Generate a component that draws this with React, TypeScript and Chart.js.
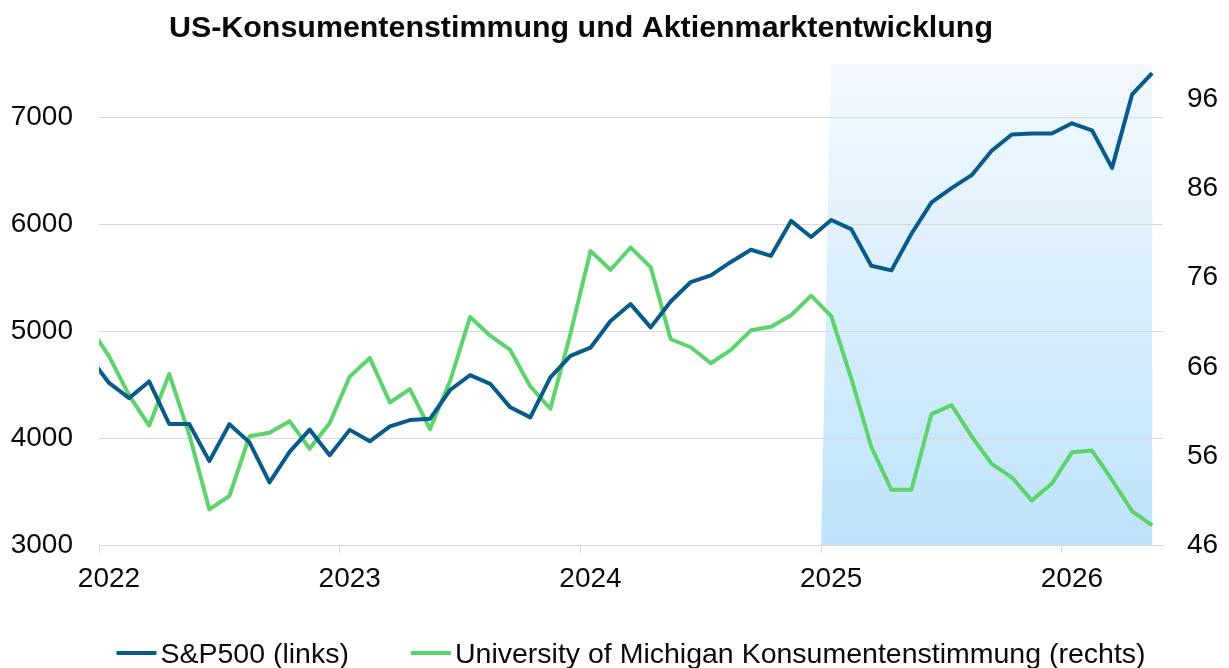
import React, { useEffect, useRef } from 'react';
import { Chart, registerables } from 'chart.js';

Chart.register(...registerables);

const TITLE = 'US-Konsumentenstimmung und Aktienmarktentwicklung';

// Monthly observations (plotted at mid-month); Dec 2021 is clipped at the left edge
const MONTHS = [
  '2021-12',
  '2022-01', '2022-02', '2022-03', '2022-04', '2022-05', '2022-06', '2022-07', '2022-08', '2022-09', '2022-10', '2022-11', '2022-12',
  '2023-01', '2023-02', '2023-03', '2023-04', '2023-05', '2023-06', '2023-07', '2023-08', '2023-09', '2023-10', '2023-11', '2023-12',
  '2024-01', '2024-02', '2024-03', '2024-04', '2024-05', '2024-06', '2024-07', '2024-08', '2024-09', '2024-10', '2024-11', '2024-12',
  '2025-01', '2025-02', '2025-03', '2025-04', '2025-05', '2025-06', '2025-07', '2025-08', '2025-09', '2025-10', '2025-11', '2025-12',
  '2026-01', '2026-02', '2026-03', '2026-04', '2026-05',
];

const SP500 = [
  4766,
  4516, 4374, 4530, 4132, 4132, 3785, 4130, 3960, 3586, 3872, 4080, 3840,
  4077, 3970, 4109, 4169, 4180, 4450, 4589, 4508, 4288, 4194, 4568, 4770,
  4846, 5096, 5254, 5036, 5278, 5460, 5522, 5648, 5762, 5705, 6032, 5882,
  6041, 5955, 5612, 5569, 5912, 6205, 6339, 6460, 6688, 6840, 6849, 6850,
  6945, 6880, 6528, 7215, 7415,
];

const UMICH = [
  70.6,
  67.2, 62.8, 59.4, 65.2, 58.4, 50.0, 51.5, 58.2, 58.6, 59.9, 56.8, 59.7,
  64.9, 67.0, 62.0, 63.5, 59.0, 64.4, 71.6, 69.5, 67.9, 63.8, 61.3, 69.7,
  79.0, 76.9, 79.4, 77.2, 69.1, 68.2, 66.4, 67.9, 70.1, 70.5, 71.8, 74.0,
  71.7, 64.7, 57.0, 52.2, 52.2, 60.7, 61.7, 58.2, 55.1, 53.6, 51.0, 52.9,
  56.4, 56.6, 53.3, 49.8, 48.2,
];

const SERIES_LABELS = ['S&P500 (links)', 'University of Michigan Konsumentenstimmung (rechts)'];
const X_TICKS = [2022, 2023, 2024, 2025, 2026];
const LEFT_TICKS = [3000, 4000, 5000, 6000, 7000];
const RIGHT_TICKS = [46, 56, 66, 76, 86, 96];

const X_MIN = 2022;
const X_MAX = 2026.42;
const LEFT_MIN = 3000;
const LEFT_MAX = 7500;
const RIGHT_MIN = 46;
const RIGHT_MAX = 100;

const SHADE_START = 2025.0;
const SHADE_START_TOP = 2025.04;
const SHADE_END_MONTH = '2026-05';

const BLUE = '#075b8b';
const GREEN = '#5cd46b';
const GRID = '#d9d9d9';
const TEXT = '#0a0a0a';
const FONT = '"Liberation Sans", Arial, sans-serif';

const toYear = (m: string) => {
  const [y, mo] = m.split('-').map(Number);
  return y + (mo - 0.5) / 12;
};

const shadePlugin = {
  id: 'shade',
  beforeDraw(chart: any) {
    const { ctx, chartArea, scales } = chart;
    const xs = scales.x;
    const x0b = xs.getPixelForValue(SHADE_START);
    const x0t = xs.getPixelForValue(SHADE_START_TOP);
    const x1 = xs.getPixelForValue(toYear(SHADE_END_MONTH));
    const g = ctx.createLinearGradient(0, chartArea.top, 0, chartArea.bottom);
    g.addColorStop(0, '#f3f9fe');
    g.addColorStop(1, '#bde3fa');
    ctx.save();
    ctx.fillStyle = g;
    ctx.beginPath();
    ctx.moveTo(x0t, chartArea.top);
    ctx.lineTo(x1, chartArea.top);
    ctx.lineTo(x1, chartArea.bottom);
    ctx.lineTo(x0b, chartArea.bottom);
    ctx.closePath();
    ctx.fill();
    ctx.restore();
  },
};

const textPlugin = {
  id: 'textDecor',
  afterDraw(chart: any) {
    const { ctx, chartArea } = chart;
    ctx.save();
    // Title
    ctx.fillStyle = TEXT;
    ctx.font = `bold 30.4px ${FONT}`;
    ctx.textAlign = 'center';
    ctx.textBaseline = 'alphabetic';
    ctx.fillText(TITLE, 581, 37);

    // Legend
    ctx.font = `28.5px ${FONT}`;
    ctx.textAlign = 'left';
    const lineW = 40;
    const gap = 4;
    const itemGap = 62;
    const items = chart.data.datasets.map((d: any) => ({
      label: d.label,
      color: d.borderColor,
      w: ctx.measureText(d.label).width,
    }));
    const total = items.reduce((s: number, it: any) => s + lineW + gap + it.w, 0) + itemGap * (items.length - 1);
    let x = (chartArea.left + chartArea.right) / 2 - total / 2;
    const ly = 653;
    for (const it of items) {
      ctx.fillStyle = it.color;
      ctx.fillRect(x, ly - 2, lineW, 4);
      x += lineW + gap;
      ctx.fillStyle = TEXT;
      ctx.fillText(it.label, x, 663);
      x += it.w + itemGap;
    }
    ctx.restore();
  },
};

export default function App() {
  const ref = useRef<HTMLCanvasElement | null>(null);

  useEffect(() => {
    if (!ref.current) return;
    const xs = MONTHS.map(toYear);
    const chart = new Chart(ref.current, {
      type: 'line',
      data: {
        datasets: [
          {
            label: SERIES_LABELS[0],
            data: xs.map((x, i) => ({ x, y: SP500[i] })),
            borderColor: BLUE,
            backgroundColor: BLUE,
            borderWidth: 4,
            pointRadius: 0,
            tension: 0,
            borderJoinStyle: 'round',
            yAxisID: 'y',
          },
          {
            label: SERIES_LABELS[1],
            data: xs.map((x, i) => ({ x, y: UMICH[i] })),
            borderColor: GREEN,
            backgroundColor: GREEN,
            borderWidth: 4,
            pointRadius: 0,
            tension: 0,
            borderJoinStyle: 'round',
            yAxisID: 'y1',
          },
        ],
      },
      options: {
        animation: false,
        responsive: true,
        maintainAspectRatio: false,
        layout: { padding: { top: 64, bottom: 63, left: 0, right: 0 } },
        plugins: {
          legend: { display: false },
          title: { display: false },
          tooltip: { enabled: false },
        },
        scales: {
          x: {
            type: 'linear',
            min: X_MIN,
            max: X_MAX,
            afterBuildTicks: (scale: any) => {
              scale.ticks = X_TICKS.map((v) => ({ value: v }));
            },
            afterFit: (scale: any) => {
              scale.height = 60;
            },
            ticks: {
              callback: (v: any) => String(v),
              font: { family: FONT, size: 28 },
              color: TEXT,
              padding: 9,
              labelOffset: 10,
              maxRotation: 0,
              autoSkip: false,
            },
            grid: {
              drawOnChartArea: false,
              drawTicks: true,
              tickLength: 8,
              color: GRID,
            },
            border: { display: true, color: GRID, width: 1 },
          },
          y: {
            type: 'linear',
            position: 'left',
            min: LEFT_MIN,
            max: LEFT_MAX,
            afterBuildTicks: (scale: any) => {
              scale.ticks = LEFT_TICKS.map((v) => ({ value: v }));
            },
            afterFit: (scale: any) => {
              scale.width = 99;
            },
            ticks: {
              callback: (v: any) => String(v),
              font: { family: FONT, size: 28 },
              color: TEXT,
              padding: 26,
            },
            grid: { color: GRID, drawTicks: false, lineWidth: 1 },
            border: { display: false },
          },
          y1: {
            type: 'linear',
            position: 'right',
            min: RIGHT_MIN,
            max: RIGHT_MAX,
            afterBuildTicks: (scale: any) => {
              scale.ticks = RIGHT_TICKS.map((v) => ({ value: v }));
            },
            afterFit: (scale: any) => {
              scale.width = 66;
            },
            ticks: {
              callback: (v: any) => String(v),
              font: { family: FONT, size: 28 },
              color: TEXT,
              padding: 24,
            },
            grid: { drawOnChartArea: false, drawTicks: false },
            border: { display: false },
          },
        },
      },
      plugins: [shadePlugin, textPlugin],
    } as any);
    return () => chart.destroy();
  }, []);

  return (
    <div style={{ position: 'fixed', left: 0, top: 0, width: 1229, height: 668, background: '#ffffff' }}>
      <canvas ref={ref} />
    </div>
  );
}
